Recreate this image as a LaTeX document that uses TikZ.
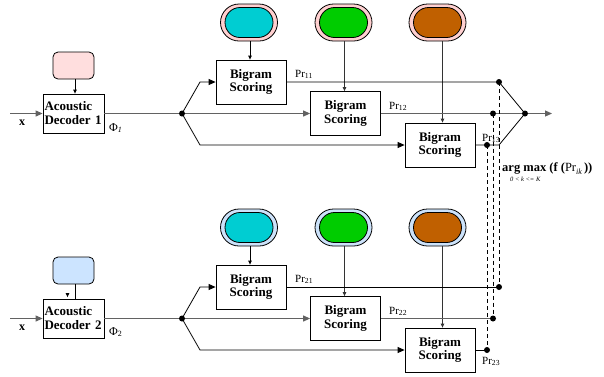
\documentclass[tikz,border=0pt]{standalone}
\usepackage{fontspec}
\setmainfont{Liberation Serif}
\usetikzlibrary{arrows.meta,shapes.misc}
\definecolor{padpink}{HTML}{FFDEDE}
\definecolor{padblue}{HTML}{CCE4FF}
\definecolor{ringpink}{HTML}{FFD0D0}
\definecolor{ringblue}{HTML}{CCE2FA}
\definecolor{pcyan}{HTML}{00CDD2}
\definecolor{pgreen}{HTML}{00CC00}
\definecolor{porange}{HTML}{C06000}
\definecolor{lgray}{HTML}{626262}
\tikzset{
  ln/.style={draw=black, line width=0.8pt},
  gline/.style={draw=lgray, line width=1.1pt},
  arr/.style={-{Triangle[length=7pt,width=6pt]}},
  sarr/.style={-{Triangle[length=4pt,width=3.5pt]}},
  pad/.style={draw, line width=0.8pt, rounded corners=5pt, minimum width=41pt, minimum height=27pt, inner sep=0pt},
  decoder/.style={draw, line width=0.8pt, fill=white, text width=58pt, inner sep=1.5pt, minimum height=39pt, align=left, font=\bfseries\fontsize{13}{14}\selectfont},
  bigram/.style={draw, line width=0.8pt, fill=white, minimum width=70pt, minimum height=44pt, inner sep=0pt, align=center, font=\bfseries\fontsize{13}{13.5}\selectfont},
  pillout/.style={rounded rectangle, draw, line width=0.8pt, fill=#1, minimum width=57pt, minimum height=37pt, inner sep=0pt},
  pillin/.style={rounded rectangle, draw, line width=0.8pt, fill=#1, minimum width=48pt, minimum height=30pt, inner sep=0pt},
  prlab/.style={anchor=base west, inner sep=0pt, font=\fontsize{11}{12}\selectfont},
  dot/.style={circle, fill=black, inner sep=0pt, minimum size=6pt},
  dsh/.style={draw=black, line width=0.8pt, dash pattern=on 4pt off 3pt},
}
\begin{document}
\begin{tikzpicture}[x=1pt,y=-1pt]
\useasboundingbox (0,0) rectangle (604,376);

% ================= top row =================
\node[pad, fill=padpink] (m1) at (73.5,65.5) {};
\node[decoder] (d1) at (73.5,113.5) {Acoustic\\Decoder 1};
\draw[ln, sarr] ([xshift=1.5pt]m1.south) -- ([xshift=1.5pt]m1.south |- d1.north);
\coordinate (in1) at (10,113.5);
\draw[gline, arr] (in1) -- (d1.west);
\node[font=\bfseries\fontsize{12}{13}\selectfont] (x1) at (22,123) {x};
\node[prlab] (phi1) at (109,131) {\fontsize{12}{13}\selectfont Φ\textsubscript{\itshape 1}};
\coordinate (j1) at (182,113.5);
\draw[gline] (d1.east) -- (j1);

\node[bigram] (b11) at (251,82) {Bigram\\Scoring};
\node[bigram] (b12) at (345.5,113.5) {Bigram\\Scoring};
\node[bigram] (b13) at (440,145) {Bigram\\Scoring};

\draw[ln, arr] (j1) -- ([xshift=18pt]j1 |- b11.west) -- (b11.west);
\draw[gline, arr] (j1) -- (b12.west);
\draw[ln, arr] (j1) -- ([xshift=18pt]j1 |- b13.west) -- (b13.west);

\node[pillout=ringpink] (e11) at (249,22.5) {};
\node[pillin=pcyan] (f11) at (e11) {};
\node[pillout=ringpink] (e12) at (343.5,22.5) {};
\node[pillin=pgreen] (f12) at (e12) {};
\node[pillout=ringpink] (e13) at (437.5,22.5) {};
\node[pillin=porange] (f13) at (e13) {};
\draw[ln, sarr] ([xshift=1pt]e11.south) -- ([xshift=1pt]e11.south |- b11.north);
\draw[ln, draw=black!80, sarr] ([xshift=1pt]e12.south) -- ([xshift=1pt]e12.south |- b12.north);
\draw[ln, draw=black!80, sarr] ([xshift=5pt]e13.south) -- ([xshift=5pt]e13.south |- b13.north);

\coordinate (p11) at (499,82);
\coordinate (p12) at (493,113.5);
\coordinate (p13) at (487,145);
\coordinate (q13) at (499,145);
\coordinate (k1) at (525,113.5);
\coordinate (o1) at (552,113.5);
\draw[ln] (b11.east) -- (p11) -- (k1);
\draw[gline] (b12.east) -- (p12) -- (k1);
\draw[ln] (b13.east) -- (p13) -- (q13) -- (k1);
\draw[gline, arr] (k1) -- (o1);

\node[prlab] (l11) at (295,77) {Pr\textsubscript{11}};
\node[prlab] (l12) at (389,109) {Pr\textsubscript{12}};
\node[prlab] (l13) at (482,141) {Pr\textsubscript{13}};

% ================= bottom row =================
\node[pad, fill=padblue] (m2) at (73.5,270.5) {};
\node[decoder] (d2) at (73.5,318.5) {Acoustic\\Decoder 2};
\draw[ln] ([xshift=1.5pt]m2.south) -- ([xshift=1.5pt]m2.south |- d2.north);
\coordinate (t2) at ([xshift=-6pt,yshift=1.5pt]d2.north);
\draw[ln, sarr] ([yshift=4pt]t2) -- (t2);
\coordinate (in2) at (10,318.5);
\draw[gline, arr] (in2) -- (d2.west);
\node[font=\bfseries\fontsize{12}{13}\selectfont] (x2) at (22,328) {x};
\node[prlab] (phi2) at (109,335) {\fontsize{12}{13}\selectfont Φ\textsubscript{2}};
\coordinate (j2) at (182,318.5);
\draw[gline] (d2.east) -- (j2);

\node[bigram] (b21) at (251,287) {Bigram\\Scoring};
\node[bigram] (b22) at (345.5,318.5) {Bigram\\Scoring};
\node[bigram] (b23) at (440,350) {Bigram\\Scoring};

\draw[ln, arr] (j2) -- ([xshift=18pt]j2 |- b21.west) -- (b21.west);
\draw[gline, arr] (j2) -- (b22.west);
\draw[ln, arr] (j2) -- ([xshift=18pt]j2 |- b23.west) -- (b23.west);

\node[pillout=ringblue] (e21) at (249,227.5) {};
\node[pillin=pcyan] (f21) at (e21) {};
\node[pillout=ringblue] (e22) at (343.5,227.5) {};
\node[pillin=pgreen] (f22) at (e22) {};
\node[pillout=ringblue] (e23) at (437.5,227.5) {};
\node[pillin=porange] (f23) at (e23) {};
\draw[ln, sarr] ([xshift=1pt]e21.south) -- ([xshift=1pt]e21.south |- b21.north);
\draw[ln, draw=black!80, sarr] ([xshift=1pt]e22.south) -- ([xshift=1pt]e22.south |- b22.north);
\draw[ln, draw=black!80, sarr] ([xshift=5pt]e23.south) -- ([xshift=5pt]e23.south |- b23.north);

\coordinate (p21) at (499,287);
\coordinate (p22) at (493,318.5);
\coordinate (p23) at (487,350);
\draw[ln] (b21.east) -- (p21);
\draw[gline] (b22.east) -- (p22);
\draw[ln] (b23.east) -- (p23);

\node[prlab] (l21) at (295,282) {Pr\textsubscript{21}};
\node[prlab] (l22) at (389,314) {Pr\textsubscript{22}};
\node[prlab] (l23) at (482,364) {Pr\textsubscript{23}};

% ================= dashed links =================
\draw[dsh] (p11) -- (p21);
\draw[dsh] (p12) -- (p22);
\draw[dsh] (p13) -- (p23);

\foreach \p in {p11,p12,p13,k1,j1,p21,p22,p23,j2}
  \node[dot] at (\p) {};

% ================= argmax =================
\node[anchor=base west, inner sep=0pt, font=\fontsize{12.5}{14}\selectfont] (am) at (502,171)
  {\textbf{arg max (f (}Pr\raisebox{-3pt}{\fontsize{8}{9}\selectfont\itshape ik}\,\textbf{))}};
\node[anchor=base west, inner sep=0pt, font=\fontsize{6.5}{7}\selectfont\itshape] (amk) at (510,181)
  {0 < k <= K};
\end{tikzpicture}
\end{document}
